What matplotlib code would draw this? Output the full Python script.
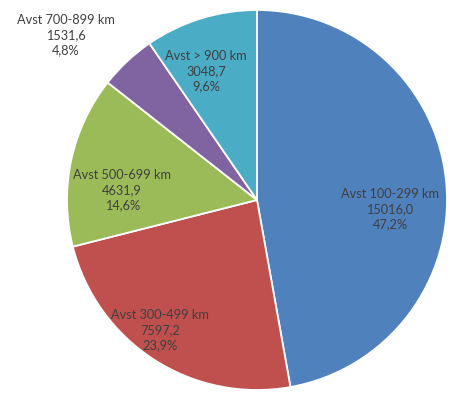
import matplotlib
matplotlib.use("Agg")
import matplotlib.pyplot as plt

# distance bands and their totals
categories = ["Avst 100-299 km", "Avst 300-499 km", "Avst 500-699 km",
              "Avst 700-899 km", "Avst > 900 km"]
values = [15016.0, 7597.2, 4631.9, 1531.6, 3048.7]
colors = ["#4F81BD", "#C0504D", "#9BBB59", "#8064A2", "#4BACC6"]

# label centres in pie-radius units (purple one sits outside the pie)
label_xy = [(0.70, -0.047), (-0.51, -0.684), (-0.71, 0.053),
            (-1.005, 0.868), (-0.268, 0.679)]

plt.rcParams["font.family"] = ["Lato", "DejaVu Sans"]

W, H = 451, 397
fig = plt.figure(figsize=(W / 100, H / 100), dpi=100)
cx, cy, r = 257, 200, 190
ax = fig.add_axes([(cx - r) / W, (H - cy - r) / H, 2 * r / W, 2 * r / H])

wedges, _ = ax.pie(values, colors=colors, startangle=90, counterclock=False,
                   radius=1.0,
                   wedgeprops=dict(edgecolor="white", linewidth=1.3))
ax.set_xlim(-1, 1)
ax.set_ylim(-1, 1)
ax.set_aspect("equal")
ax.axis("off")

total = sum(values)
for name, v, (x, y) in zip(categories, values, label_xy):
    pct = f"{100 * v / total:.1f}".replace(".", ",") + "%"
    val = f"{v:.1f}".replace(".", ",")
    ax.text(x, y, f"{name}\n{val}\n{pct}", ha="center", va="center",
            fontsize=9.2, color="#404040", linespacing=1.3, clip_on=False)

fig.savefig("out.png", dpi=100, facecolor="white")
